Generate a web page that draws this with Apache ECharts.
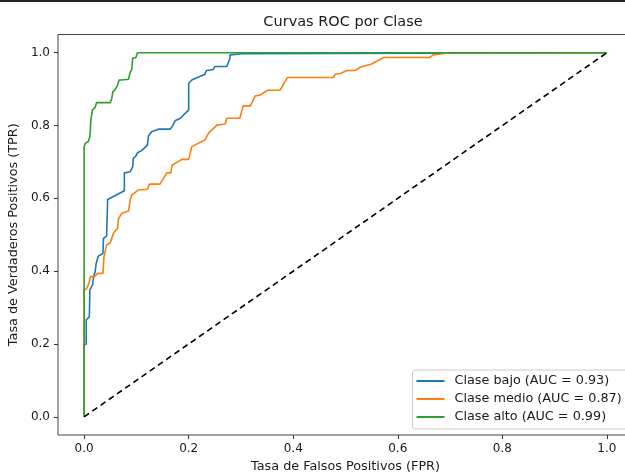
<!DOCTYPE html>
<html>
<head>
<meta charset="utf-8">
<script src="https://cdn.jsdelivr.net/npm/echarts@6/dist/echarts.min.js"></script>
<style>
html,body{margin:0;padding:0;background:#fff;}
#c{width:625px;height:472px;}
</style>
</head>
<body>
<div id="c"></div>
<script>
// ---- data ----
const bajoFpr = [0, 0, 0.004, 0.004, 0.01, 0.011, 0.016, 0.018, 0.021, 0.023, 0.027, 0.036, 0.037, 0.043, 0.045, 0.077, 0.077, 0.088, 0.093, 0.094, 0.099, 0.102, 0.110, 0.121, 0.123, 0.129, 0.142, 0.165, 0.170, 0.174, 0.184, 0.200, 0.200, 0.206, 0.231, 0.234, 0.247, 0.250, 0.273, 0.279, 0.279, 0.302, 0.302, 1.0];
const bajoTpr = [0, 0.197, 0.2, 0.266, 0.275, 0.348, 0.362, 0.385, 0.398, 0.421, 0.441, 0.449, 0.49, 0.496, 0.597, 0.621, 0.670, 0.673, 0.687, 0.710, 0.716, 0.725, 0.731, 0.746, 0.771, 0.783, 0.790, 0.790, 0.801, 0.813, 0.820, 0.843, 0.916, 0.925, 0.941, 0.951, 0.954, 0.962, 0.962, 0.985, 0.994, 0.997, 1.0, 1.0];

const medioFpr = [0, 0, 0.004, 0.010, 0.012, 0.020, 0.026, 0.036, 0.038, 0.043, 0.050, 0.056, 0.064, 0.066, 0.072, 0.085, 0.088, 0.091, 0.104, 0.121, 0.125, 0.145, 0.152, 0.158, 0.166, 0.168, 0.180, 0.187, 0.200, 0.206, 0.231, 0.238, 0.254, 0.270, 0.273, 0.298, 0.304, 0.318, 0.327, 0.337, 0.351, 0.375, 0.389, 0.477, 0.480, 0.490, 0.503, 0.519, 0.528, 0.550, 0.573, 0.661, 0.668, 0.700, 1.0];
const medioTpr = [0, 0.350, 0.350, 0.370, 0.385, 0.385, 0.394, 0.394, 0.440, 0.472, 0.478, 0.504, 0.518, 0.545, 0.559, 0.565, 0.595, 0.609, 0.623, 0.625, 0.639, 0.639, 0.655, 0.670, 0.670, 0.691, 0.701, 0.707, 0.707, 0.742, 0.760, 0.779, 0.801, 0.804, 0.820, 0.820, 0.854, 0.854, 0.881, 0.884, 0.897, 0.897, 0.932, 0.932, 0.941, 0.943, 0.951, 0.951, 0.960, 0.969, 0.987, 0.987, 0.994, 1.0, 1.0];

const altoFpr = [0, 0, 0.002, 0.008, 0.011, 0.013, 0.015, 0.016, 0.021, 0.024, 0.050, 0.053, 0.055, 0.059, 0.064, 0.067, 0.072, 0.085, 0.088, 0.091, 0.093, 0.099, 0.102, 1.0];
const altoTpr = [0, 0.742, 0.751, 0.756, 0.769, 0.817, 0.822, 0.843, 0.850, 0.863, 0.863, 0.875, 0.893, 0.898, 0.911, 0.925, 0.925, 0.927, 0.945, 0.954, 0.985, 0.987, 1.0, 1.0];

const diagX = [0, 1];
const diagY = [0, 1];

const seriesNames = ['Clase bajo (AUC = 0.93)', 'Clase medio (AUC = 0.87)', 'Clase alto (AUC = 0.99)'];
const tickValues = [0, 0.2, 0.4, 0.6, 0.8, 1.0];

const zip = (xs, ys) => xs.map((x, i) => [x, ys[i]]);

const FONT = 'DejaVu Sans';
const TXT = '#1a1a1a';
const chart = echarts.init(document.getElementById('c'), null, {renderer: 'canvas'});

function axis(nameText, isY) {
  return {
    type: 'value',
    min: -0.05,
    max: 1.05,
    name: nameText,
    nameLocation: 'middle',
    nameGap: isY ? 35 : 23,
    nameTextStyle: {fontFamily: FONT, fontSize: 12.8, color: TXT},
    axisLine: {show: false, onZero: false},
    splitLine: {show: false},
    axisTick: {show: true, inside: false, length: 4, customValues: tickValues, lineStyle: {color: '#333', width: 1}},
    axisLabel: {
      customValues: tickValues,
      margin: isY ? 8 : 8,
      fontFamily: FONT, fontSize: 12, color: TXT,
      formatter: v => v.toFixed(1)
    }
  };
}

const colors = ['#1f77b4', '#ff7f0e', '#2ca02c'];
const datasets = [zip(bajoFpr, bajoTpr), zip(medioFpr, medioTpr), zip(altoFpr, altoTpr)];

const series = datasets.map((d, i) => ({
  name: seriesNames[i],
  type: 'line',
  data: d,
  showSymbol: false,
  symbol: 'none',
  lineStyle: {color: colors[i], width: 1.6},
  itemStyle: {color: colors[i]},
  z: 2 + i
}));
series.push({
  name: 'diag',
  type: 'line',
  data: zip(diagX, diagY),
  showSymbol: false,
  symbol: 'none',
  lineStyle: {color: '#000', width: 1.6, type: [6, 4]},
  z: 10
});

chart.setOption({
  animation: false,
  backgroundColor: '#fff',
  title: {
    text: 'Curvas ROC por Clase',
    left: 338,
    textAlign: 'center',
    top: 10,
    textStyle: {fontFamily: FONT, fontSize: 14.5, fontWeight: 'normal', color: TXT}
  },
  grid: {
    left: 58, top: 34.5, width: 575, height: 400.5,
    show: true, borderColor: '#444', borderWidth: 1, backgroundColor: 'transparent',
    containLabel: false,
    outerBoundsMode: 'none'
  },
  xAxis: axis('Tasa de Falsos Positivos (FPR)', false),
  yAxis: axis('Tasa de Verdaderos Positivos (TPR)', true),
  legend: {
    data: seriesNames,
    orient: 'vertical',
    left: 412.5,
    top: 370,
    padding: [4, 14, 5, 4],
    itemGap: 4,
    itemWidth: 28,
    itemHeight: 2,
    icon: 'rect',
    borderColor: '#cccccc',
    borderWidth: 1,
    borderRadius: 3,
    backgroundColor: 'rgba(255,255,255,0.85)',
    textStyle: {fontFamily: FONT, fontSize: 12.8, color: TXT, lineHeight: 14, padding: [0, 0, 0, 5]}
  },
  graphic: [{
    type: 'rect',
    shape: {x: 0, y: 0, width: 625, height: 2},
    style: {fill: '#222'},
    z: 100
  }],
  series: series
});
</script>
</body>
</html>
